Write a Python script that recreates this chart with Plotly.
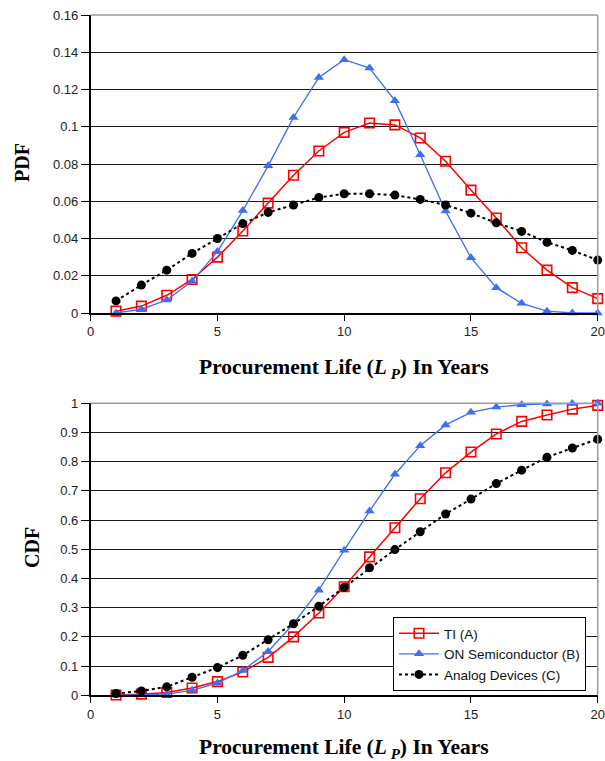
import plotly.graph_objects as go

years = list(range(1, 21))

pdf_ti = [0.001, 0.0037, 0.0095, 0.018, 0.030, 0.044, 0.059, 0.074, 0.087, 0.097,
          0.102, 0.101, 0.094, 0.0815, 0.066, 0.051, 0.035, 0.023, 0.0136, 0.0077]
pdf_on = [0.0, 0.002, 0.007, 0.017, 0.033, 0.055, 0.079, 0.105, 0.1265, 0.136,
          0.1315, 0.114, 0.085, 0.0547, 0.0297, 0.0136, 0.0052, 0.001, 0.0, 0.0]
pdf_ad = [0.0065, 0.015, 0.023, 0.032, 0.040, 0.048, 0.054, 0.058, 0.062, 0.064,
          0.064, 0.0633, 0.061, 0.058, 0.0536, 0.0484, 0.0438, 0.038, 0.0336, 0.0284]

cdf_ti = [0.001, 0.004, 0.010, 0.025, 0.047, 0.080, 0.130, 0.200, 0.282, 0.372,
          0.474, 0.574, 0.673, 0.762, 0.833, 0.895, 0.938, 0.960, 0.980, 0.993]
cdf_on = [0.0, 0.001, 0.004, 0.017, 0.042, 0.085, 0.150, 0.245, 0.360, 0.497,
          0.631, 0.757, 0.855, 0.926, 0.969, 0.987, 0.995, 0.998, 0.999, 1.0]
cdf_ad = [0.006, 0.015, 0.029, 0.062, 0.095, 0.137, 0.190, 0.245, 0.305, 0.370,
          0.437, 0.499, 0.560, 0.621, 0.672, 0.725, 0.771, 0.815, 0.847, 0.877]

series_names = ["TI (A)", "ON Semiconductor (B)", "Analog Devices (C)"]

pdf_ticks = [0, 0.02, 0.04, 0.06, 0.08, 0.1, 0.12, 0.14, 0.16]
pdf_ticktext = ["0", "0.02", "0.04", "0.06", "0.08", "0.1", "0.12", "0.14", "0.16"]
cdf_ticks = [0, 0.1, 0.2, 0.3, 0.4, 0.5, 0.6, 0.7, 0.8, 0.9, 1]
cdf_ticktext = ["0", "0.1", "0.2", "0.3", "0.4", "0.5", "0.6", "0.7", "0.8", "0.9", "1"]
x_ticks = [0, 5, 10, 15, 20]

RED = "#ff0000"
BLUE = "#3d6ff2"
BLACK = "#000000"

W, H = 605, 761
xdom = [90.7 / W, 597.7 / W]
ydom_top = [1 - 313 / H, 1 - 15 / H]
ydom_bot = [1 - 695.3 / H, 1 - 403.3 / H]

fig = go.Figure()


def add_series(xa, ya, ti, on, ad, show):
    fig.add_trace(go.Scatter(
        x=years, y=ti, name=series_names[0], mode="lines+markers", xaxis=xa, yaxis=ya,
        line=dict(color=RED, width=1.5), cliponaxis=False,
        marker=dict(symbol="square-open", size=9.5, color=RED, line=dict(width=1.6, color=RED)),
        showlegend=show))
    fig.add_trace(go.Scatter(
        x=years, y=on, name=series_names[1], mode="lines+markers", xaxis=xa, yaxis=ya,
        line=dict(color=BLUE, width=1.3), cliponaxis=False,
        marker=dict(symbol="triangle-up", size=9, color=BLUE),
        showlegend=show))
    fig.add_trace(go.Scatter(
        x=years, y=ad, name=series_names[2], mode="lines+markers", xaxis=xa, yaxis=ya,
        line=dict(color=BLACK, width=2, dash="dot"), cliponaxis=False,
        marker=dict(symbol="circle", size=9, color=BLACK),
        showlegend=show))


add_series("x", "y", pdf_ti, pdf_on, pdf_ad, False)
add_series("x2", "y2", cdf_ti, cdf_on, cdf_ad, True)

tickfont = dict(family="Liberation Sans, Arial, sans-serif", size=13, color="#222222")

xcommon = dict(range=[0, 20], tickvals=x_ticks, showgrid=False, zeroline=False,
               showline=True, linecolor="#000000", linewidth=1.5,
               ticks="outside", ticklen=6, tickcolor="#000000", tickwidth=1,
               tickfont=tickfont, domain=xdom, automargin=False, fixedrange=True)
ycommon = dict(showgrid=True, gridcolor="#1a1a1a", gridwidth=1, zeroline=False,
               showline=True, linecolor="#000000", linewidth=1.5,
               ticks="outside", ticklen=8, tickcolor="#000000", tickwidth=1,
               tickfont=tickfont, automargin=False, fixedrange=True)

fig.update_layout(
    width=W, height=H,
    margin=dict(l=0, r=0, t=0, b=0),
    paper_bgcolor="white", plot_bgcolor="white",
    xaxis=dict(**xcommon, anchor="y"),
    yaxis=dict(**ycommon, range=[0, 0.16], tickvals=pdf_ticks, ticktext=pdf_ticktext,
               domain=ydom_top, anchor="x"),
    xaxis2=dict(**xcommon, anchor="y2"),
    yaxis2=dict(**ycommon, range=[0, 1], tickvals=cdf_ticks, ticktext=cdf_ticktext,
                domain=ydom_bot, anchor="x2"),
    legend=dict(x=393 / W, y=1 - 617 / H, xanchor="left", yanchor="top",
                bgcolor="white", bordercolor="#000000", borderwidth=1,
                font=dict(family="Liberation Sans, Arial, sans-serif", size=13.5, color="#111111"),
                tracegroupgap=0, itemwidth=40),
    showlegend=True,
)

# gray plot-area border on top and right
for xr, yr in (("x domain", "y domain"), ("x2 domain", "y2 domain")):
    fig.add_shape(type="line", xref=xr, yref=yr, x0=0, x1=1, y0=1, y1=1,
                  line=dict(color="#9a9a9a", width=1.5), layer="above")
    fig.add_shape(type="line", xref=xr, yref=yr, x0=1, x1=1, y0=0, y1=1,
                  line=dict(color="#9a9a9a", width=1.5), layer="above")

title_font = dict(family="Liberation Serif, Times New Roman, serif", size=21.5, color="#000000")
ylab_font = dict(family="Liberation Serif, Times New Roman, serif", size=20, color="#000000")
xtitle = "<b>Procurement Life (<i>L</i><sub> <i>P</i></sub>) In Years</b>"
fig.add_annotation(text=xtitle, x=344 / W, y=1 - 368 / H, xref="paper", yref="paper",
                   showarrow=False, font=title_font, xanchor="center", yanchor="middle")
fig.add_annotation(text=xtitle, x=344 / W, y=1 - 748 / H, xref="paper", yref="paper",
                   showarrow=False, font=title_font, xanchor="center", yanchor="middle")
fig.add_annotation(text="<b>PDF</b>", x=22 / W, y=1 - 163 / H, xref="paper", yref="paper",
                   showarrow=False, font=ylab_font, textangle=-90,
                   xanchor="center", yanchor="middle")
fig.add_annotation(text="<b>CDF</b>", x=32 / W, y=1 - 548 / H, xref="paper", yref="paper",
                   showarrow=False, font=ylab_font, textangle=-90,
                   xanchor="center", yanchor="middle")

fig.write_html("out.html", post_script="document.body.style.margin='0';",
               config={"displayModeBar": False})
